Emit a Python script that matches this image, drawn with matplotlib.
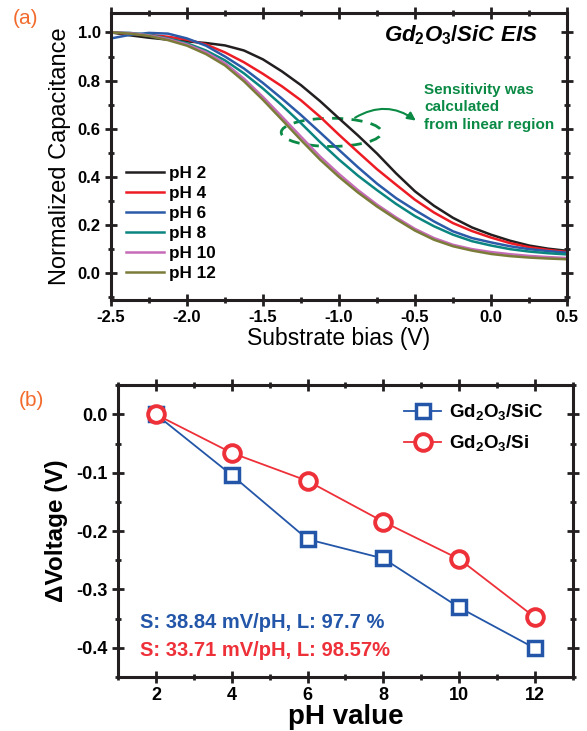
import matplotlib
matplotlib.use("Agg")
import matplotlib.pyplot as plt
from matplotlib.patches import Ellipse
from matplotlib.ticker import MultipleLocator

plt.rcParams['font.family'] = ['Liberation Sans', 'DejaVu Sans']
plt.rcParams['axes.unicode_minus'] = False
plt.rcParams['mathtext.fontset'] = 'custom'
plt.rcParams['mathtext.rm'] = 'Liberation Sans:bold'
plt.rcParams['mathtext.bf'] = 'Liberation Sans:bold'
plt.rcParams['mathtext.it'] = 'Liberation Sans:bold:italic'

# (a) C-V curves
bias = [-2.5, -2.375, -2.25, -2.125, -2.0, -1.875, -1.75, -1.625, -1.5, -1.375, -1.25, -1.125, -1.0,
        -0.875, -0.75, -0.625, -0.5, -0.375, -0.25, -0.125, 0.0, 0.125, 0.25, 0.375, 0.5]
cap_ph2 = [1.000, 0.988, 0.978, 0.970, 0.963, 0.956, 0.946, 0.925, 0.888, 0.838, 0.781, 0.715, 0.643,
           0.572, 0.497, 0.415, 0.340, 0.280, 0.230, 0.190, 0.160, 0.135, 0.115, 0.102, 0.093]
cap_ph4 = [1.000, 0.995, 0.990, 0.982, 0.970, 0.950, 0.917, 0.876, 0.828, 0.776, 0.718, 0.650, 0.575,
           0.503, 0.432, 0.368, 0.305, 0.252, 0.208, 0.175, 0.148, 0.125, 0.108, 0.097, 0.088]
cap_ph6 = [0.975, 0.990, 0.998, 0.995, 0.975, 0.945, 0.900, 0.850, 0.790, 0.725, 0.657, 0.585, 0.512,
           0.440, 0.372, 0.312, 0.262, 0.215, 0.174, 0.146, 0.128, 0.112, 0.100, 0.092, 0.085]
cap_ph8 = [1.000, 0.998, 0.990, 0.975, 0.955, 0.925, 0.884, 0.830, 0.767, 0.697, 0.623, 0.545, 0.472,
           0.405, 0.345, 0.288, 0.237, 0.195, 0.160, 0.133, 0.115, 0.100, 0.090, 0.083, 0.078]
cap_ph10 = [1.000, 0.997, 0.988, 0.972, 0.950, 0.918, 0.872, 0.808, 0.732, 0.650, 0.567, 0.485, 0.412,
            0.345, 0.285, 0.232, 0.184, 0.146, 0.118, 0.100, 0.088, 0.079, 0.072, 0.067, 0.063]
cap_ph12 = [1.000, 0.995, 0.985, 0.968, 0.945, 0.910, 0.863, 0.797, 0.720, 0.637, 0.553, 0.472, 0.400,
            0.335, 0.277, 0.225, 0.177, 0.139, 0.112, 0.094, 0.080, 0.071, 0.065, 0.061, 0.058]
curve_labels = ['pH 2', 'pH 4', 'pH 6', 'pH 8', 'pH 10', 'pH 12']
curve_colors = ['#231f20', '#ed1c24', '#2b5aa8', '#0b8580', '#c66bb8', '#7c7c3a']

# (b) voltage shift vs pH
ph = [2, 4, 6, 8, 10, 12]
dv_sic = [0.0, -0.104, -0.214, -0.247, -0.331, -0.401]
dv_si = [0.0, -0.066, -0.114, -0.184, -0.248, -0.348]

green = '#0a8a45'
orange = '#f26b2d'

fig = plt.figure(figsize=(5.87, 7.31), dpi=100)
ax1 = fig.add_axes([0.189, 0.590, 0.777, 0.392])
ax2 = fig.add_axes([0.201, 0.074, 0.775, 0.399])

curves = [cap_ph2, cap_ph4, cap_ph6, cap_ph8, cap_ph10, cap_ph12]
for c, lab, col in zip(curves, curve_labels, curve_colors):
    ax1.plot(bias, c, color=col, lw=1.8, label=lab)

ax1.set_xlim(-2.5, 0.5)
ax1.set_ylim(-0.11, 1.08)
ax1.xaxis.set_major_locator(MultipleLocator(0.5))
ax1.xaxis.set_minor_locator(MultipleLocator(0.25))
ax1.yaxis.set_major_locator(MultipleLocator(0.2))
ax1.yaxis.set_minor_locator(MultipleLocator(0.1))
ax1.set_xlabel('Substrate bias (V)', fontsize=16.5, labelpad=1)
ax1.set_ylabel('Normalized Capacitance', fontsize=17, labelpad=5)

ax1.legend(loc='lower left', bbox_to_anchor=(0.0, 0.01), frameon=False,
           handlelength=2.2, handletextpad=0.3, labelspacing=0.3,
           prop={'weight': 'bold', 'size': 12.3})

ax1.text(0.31, 0.99, r'$\mathit{Gd_2O_3/SiC\ EIS}$', ha='right', va='center', fontsize=16)

ell = Ellipse((-1.05, 0.585), 0.66, 0.117, fill=False, ec=green, lw=2, ls=(0, (4, 3)))
ax1.add_patch(ell)
ax1.annotate('', xy=(-0.48, 0.627), xytext=(-0.91, 0.64),
             arrowprops=dict(arrowstyle='-|>', color=green, lw=1.5,
                             connectionstyle='arc3,rad=-0.35', mutation_scale=12))
ax1.text(-0.44, 0.79, 'Sensitivity was\ncalculated\nfrom linear region', color=green,
         fontsize=11, fontweight='bold', ha='left', va='top', linespacing=1.3)

ax2.plot(ph, dv_sic, color='#2356a8', lw=1.3, marker='s', ms=10, mfc='white',
         mec='#2356a8', mew=2.5, label=r'Gd$_2$O$_3$/SiC')
ax2.plot(ph, dv_si, color='#ee3039', lw=1.3, marker='o', ms=12, mfc='white',
         mec='#ee3039', mew=2.8, label=r'Gd$_2$O$_3$/Si')
ax2.set_xlim(1, 13)
ax2.set_ylim(-0.45, 0.05)
ax2.xaxis.set_major_locator(MultipleLocator(2))
ax2.xaxis.set_minor_locator(MultipleLocator(1))
ax2.yaxis.set_major_locator(MultipleLocator(0.1))
ax2.yaxis.set_minor_locator(MultipleLocator(0.05))
ax2.set_xlabel('pH value', fontsize=20, fontweight='bold', labelpad=0)
ax2.set_ylabel('\u0394Voltage (V)', fontsize=17.5, fontweight='bold', labelpad=6)
ax2.legend(loc='upper right', bbox_to_anchor=(0.972, 1.0), frameon=False,
           handlelength=2.0, handletextpad=0.4, labelspacing=0.6,
           prop={'weight': 'bold', 'size': 13.5})
ax2.text(0.048, 0.188, 'S: 38.84 mV/pH, L: 97.7 %', transform=ax2.transAxes,
         color='#2356a8', fontsize=14.5, fontweight='bold', va='center')
ax2.text(0.048, 0.092, 'S: 33.71 mV/pH, L: 98.57%', transform=ax2.transAxes,
         color='#ee3039', fontsize=14.5, fontweight='bold', va='center')

for ax in (ax1, ax2):
    for sp in ax.spines.values():
        sp.set_linewidth(2.2)
        sp.set_color('#231f20')
    ax.tick_params(which='both', direction='inout', top=True, right=True, width=2, color='#231f20')
    ax.tick_params(which='major', length=8)
    ax.tick_params(which='minor', length=5)
    for lab in ax.get_xticklabels() + ax.get_yticklabels():
        lab.set_fontweight('bold')
ax1.tick_params(which='major', labelsize=12)
ax2.tick_params(which='major', labelsize=13)

fig.text(0.022, 0.975, '(a)', color=orange, fontsize=15, va='center')
fig.text(0.032, 0.452, '(b)', color=orange, fontsize=15, va='center')

fig.savefig('out.png', dpi=100)
